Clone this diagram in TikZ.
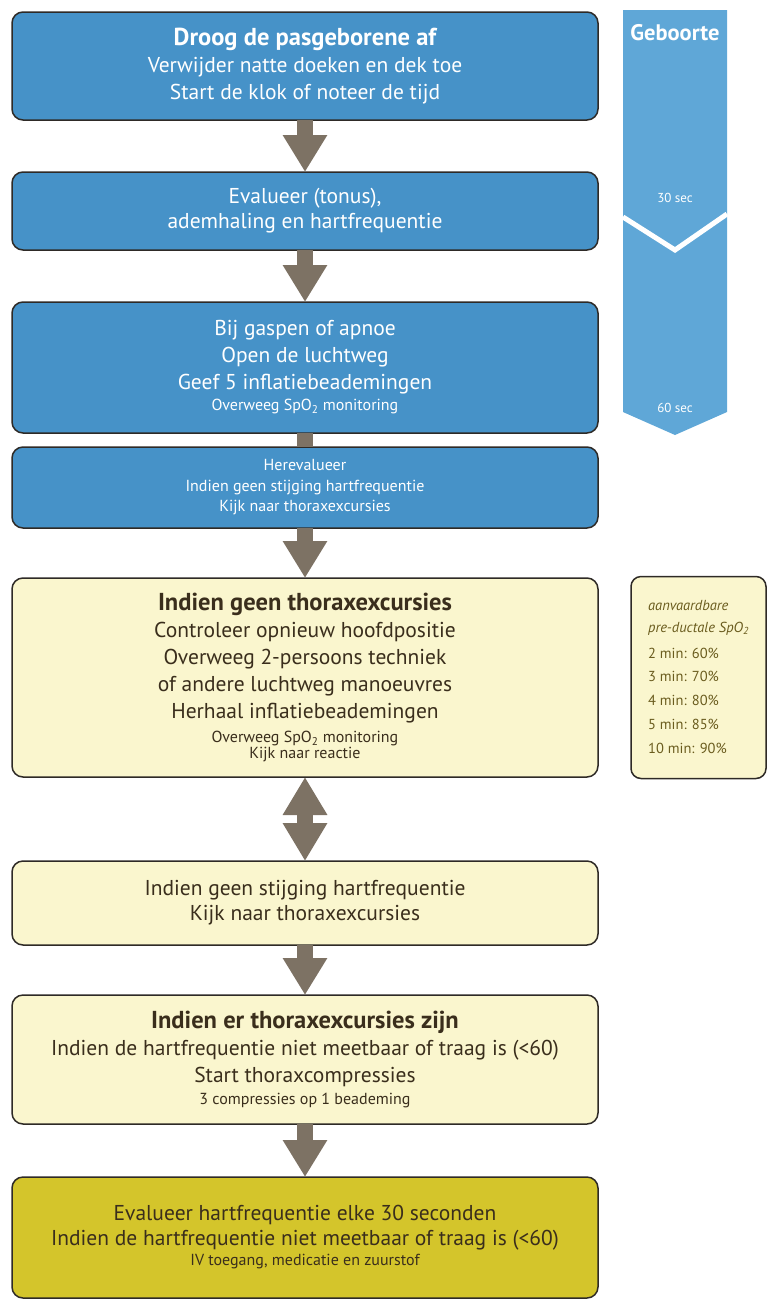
\documentclass[tikz,border=0pt]{standalone}
\usepackage{fontspec}
\setmainfont{PT Sans}
\usetikzlibrary{positioning, arrows.meta}
\definecolor{boxblue}{HTML}{4692C8}
\definecolor{bandblue}{HTML}{5FA7D7}
\definecolor{paleyellow}{HTML}{FAF6CE}
\definecolor{olivefill}{HTML}{D4C52B}
\definecolor{arrowgray}{HTML}{7D7264}
\definecolor{edgedark}{HTML}{2E2A26}
\definecolor{darktext}{HTML}{3A2E1C}
\definecolor{spotext}{HTML}{6A5C1E}
\newcommand{\txtmain}{\fontsize{21.5}{27}\selectfont}
\newcommand{\txttitle}{\fontsize{24.5}{27}\selectfont\bfseries}
\newcommand{\txtsmall}{\fontsize{16}{20.5}\selectfont}
\tikzset{
  flow box/.style={
    draw=edgedark,
    line width=1.5pt,
    rounded corners=11pt,
    minimum width=586pt,
    align=center,
    inner sep=4pt,
    outer sep=0pt,
    font=\txtmain
  },
  blue box/.style={flow box, fill=boxblue, text=white},
  pale box/.style={flow box, fill=paleyellow, text=darktext},
  olive box/.style={flow box, fill=olivefill, text=darktext},
  spo box/.style={
    draw=edgedark, line width=1.5pt, rounded corners=10pt,
    fill=paleyellow, text=spotext,
    minimum width=135pt, minimum height=202pt,
    align=left, outer sep=0pt,
    font=\fontsize{14.5}{24}\selectfont
  },
  band label/.style={text=white, font=\fontsize{13}{15}\selectfont, inner sep=1pt},
  flow arrow/.style={
    -{Triangle[width=42pt, length=37pt]},
    line width=16pt,
    color=arrowgray
  },
  flow link/.style={line width=16pt, color=arrowgray},
  both arrow/.style={
    {Triangle[width=42pt, length=38pt]}-{Triangle[width=42pt, length=38pt]},
    line width=16pt,
    color=arrowgray
  }
}
\begin{document}
\begin{tikzpicture}[x=1pt, y=-1pt, node distance=52pt]
  \useasboundingbox (0,0) rectangle (768,1302);

  % Time band
  \fill[bandblue] (623,10) -- (727,10) -- (727,412) -- (675,435) -- (623,412) -- cycle;
  \draw[white, line width=5pt] (623,217) -- (675,250) -- (727,214);
  \node[band label, font=\fontsize{22.5}{24}\selectfont\bfseries] (birth) at (675,33) {Geboorte};
  \node[band label] (sec30) at (675,198) {30 sec};
  \node[band label] (sec60) at (675,408) {60 sec};

  % Steps
  \node[blue box, minimum height=108pt] (dry) at (305,66)
    {{\txttitle Droog de pasgeborene af}\\ Verwijder natte doeken en dek toe\\ Start de klok of noteer de tijd};
  \node[blue box, minimum height=78pt, below=of dry] (eval)
    {Evalueer (tonus),\\[-2pt] ademhaling en hartfrequentie};
  \node[blue box, minimum height=131pt, below=of eval] (breaths)
    {Bij gaspen of apnoe\\ Open de luchtweg\\ Geef 5 inflatiebeademingen\\[-6pt]
     {\txtsmall Overweeg SpO\textsubscript{2} monitoring}};
  \node[blue box, minimum height=81pt, below=14pt of breaths, font=\txtsmall] (recheck)
    {Herevalueer\\ Indien geen stijging hartfrequentie\\ Kijk naar thoraxexcursies};
  \node[pale box, minimum height=199pt, below=50pt of recheck] (nochest)
    {{\txttitle Indien geen thoraxexcursies}\\ Controleer opnieuw hoofdpositie\\
     Overweeg 2-persoons techniek\\ of andere luchtweg manoeuvres\\
     Herhaal inflatiebeademingen\\[-3pt]
     {\txtsmall Overweeg SpO\textsubscript{2} monitoring}\\[-11pt]
     {\txtsmall Kijk naar reactie}};
  \node[spo box, right=33pt of nochest] (spo)
    {\textit{aanvaardbare}\\[-3pt] \textit{pre-ductale SpO\textsubscript{2}}\\[2pt]
     2 min: 60\%\\ 3 min: 70\%\\ 4 min: 80\%\\ 5 min: 85\%\\ 10 min: 90\%};
  \node[pale box, minimum height=84pt, below=84pt of nochest] (norise)
    {Indien geen stijging hartfrequentie\\[-2pt] Kijk naar thoraxexcursies};
  \node[pale box, minimum height=129pt, below=50pt of norise] (chest)
    {{\txttitle Indien er thoraxexcursies zijn}\\
     Indien de hartfrequentie niet meetbaar of traag is (<60)\\
     Start thoraxcompressies\\[-5pt]
     {\txtsmall 3 compressies op 1 beademing}};
  \node[olive box, minimum height=121pt, below=53pt of chest] (every30)
    {Evalueer hartfrequentie elke 30 seconden\\[-2pt]
     Indien de hartfrequentie niet meetbaar of traag is (<60)\\[-7pt]
     {\txtsmall IV toegang, medicatie en zuurstof}};

  % Connectors
  \draw[flow arrow] (dry) -- (eval);
  \draw[flow arrow] (eval) -- (breaths);
  \draw[flow link] (breaths) -- (recheck);
  \draw[flow arrow] (recheck) -- (nochest);
  \draw[both arrow] (nochest) -- (norise);
  \draw[flow arrow] (norise) -- (chest);
  \draw[flow arrow] (chest) -- (every30);
\end{tikzpicture}
\end{document}
